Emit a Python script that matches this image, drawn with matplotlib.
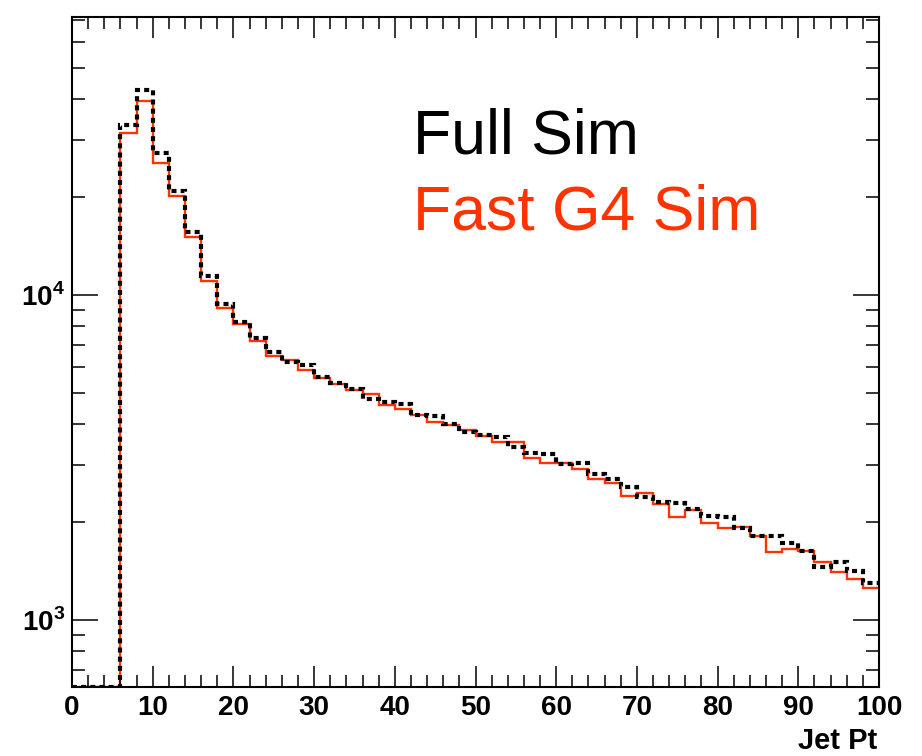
import numpy as np
import matplotlib
matplotlib.use("Agg")
import matplotlib.pyplot as plt
from matplotlib.ticker import FixedLocator, NullFormatter, FuncFormatter

## fonts (Helvetica-like)
plt.rcParams['font.family'] = ['Liberation Sans', 'DejaVu Sans']
plt.rcParams['mathtext.fontset'] = 'custom'
plt.rcParams['mathtext.rm'] = 'Liberation Sans'
plt.rcParams['mathtext.bf'] = 'Liberation Sans:bold'

## histogram data, bins of 2 GeV from 0 to 100
bin_edges = np.arange(0, 102, 2)
full_sim = [0, 0, 0,
            33350, 42800, 27300, 20900, 15560, 11460, 9350,
            8280, 7390, 6660, 6210, 6090, 5585, 5350, 5120, 4770, 4690,
            4630, 4260, 4250, 4010, 3800, 3707, 3664, 3405, 3258, 3230,
            3020, 3030, 2813, 2720, 2570, 2393, 2308, 2290, 2191, 2088,
            2069, 1923, 1814, 1814, 1720, 1625, 1459, 1505, 1410, 1297]
fast_sim = [0, 0, 0,
            31450, 39500, 25500, 20200, 15050, 11000, 9120,
            8140, 7235, 6500, 6320, 5870, 5540, 5310, 5100, 4940, 4585,
            4460, 4260, 4065, 3970, 3845, 3685, 3540, 3540, 3140, 3048,
            3030, 2920, 2710, 2634, 2407, 2458, 2280, 2080, 2185, 1991,
            1914, 1930, 1810, 1622, 1650, 1628, 1505, 1404, 1335, 1250]

ymin, ymax = 622, 71600
red = '#ff3300'

fig = plt.figure(figsize=(9.22, 7.56), dpi=100)
ax = fig.add_axes([72/922, 69/756, 807/922, 670/756])
ax.set_yscale('log')

## empty bins are drawn on the frame bottom, like ROOT does
fs = np.where(np.array(fast_sim) > 0, fast_sim, ymin)
fl = np.where(np.array(full_sim) > 0, full_sim, ymin)
ax.stairs(fs, bin_edges, baseline=None, color=red, lw=1.7)
ax.stairs(fl, bin_edges, baseline=None, color='black', lw=3.0,
          linestyle=(0, (1.2, 1.0)))

ax.set_xlim(0, 100)
ax.set_ylim(ymin, ymax)

## ticks
ax.set_xticks(np.arange(0, 101, 10))
ax.set_xticks(np.arange(0, 101, 2), minor=True)
ax.yaxis.set_major_locator(FixedLocator([1e3, 1e4]))
ax.yaxis.set_minor_locator(FixedLocator([m * 10**e for e in (2, 3, 4) for m in range(2, 10)]))
ax.yaxis.set_minor_formatter(NullFormatter())
ax.yaxis.set_major_formatter(FuncFormatter(
    lambda v, p: r'$\mathbf{10}^{\mathbf{%d}}$' % round(np.log10(v))))
ax.tick_params(which='both', direction='in', top=True, right=True,
               width=1.1, color='black')
ax.tick_params(axis='x', which='major', length=15, labelsize=20, pad=6)
ax.tick_params(axis='x', which='minor', length=8.3)
ax.tick_params(axis='y', which='major', length=18.5, labelsize=20, pad=5)
ax.tick_params(axis='y', which='minor', length=9.5)
for lab in ax.get_xticklabels():
    lab.set_fontweight('bold')
for s in ax.spines.values():
    s.set_linewidth(1.5)

## axis title, right aligned like ROOT
fig.text(877/922, 1 - 749/756, 'Jet Pt', ha='right', va='baseline',
         fontsize=21, fontweight='bold')

## legend texts
fig.text(413/922, 1 - 153/756, 'Full Sim', ha='left', va='baseline',
         fontsize=45, color='black')
fig.text(413/922, 1 - 230/756, 'Fast G4 Sim', ha='left', va='baseline',
         fontsize=45, color=red)

fig.savefig('out.png', dpi=100)
